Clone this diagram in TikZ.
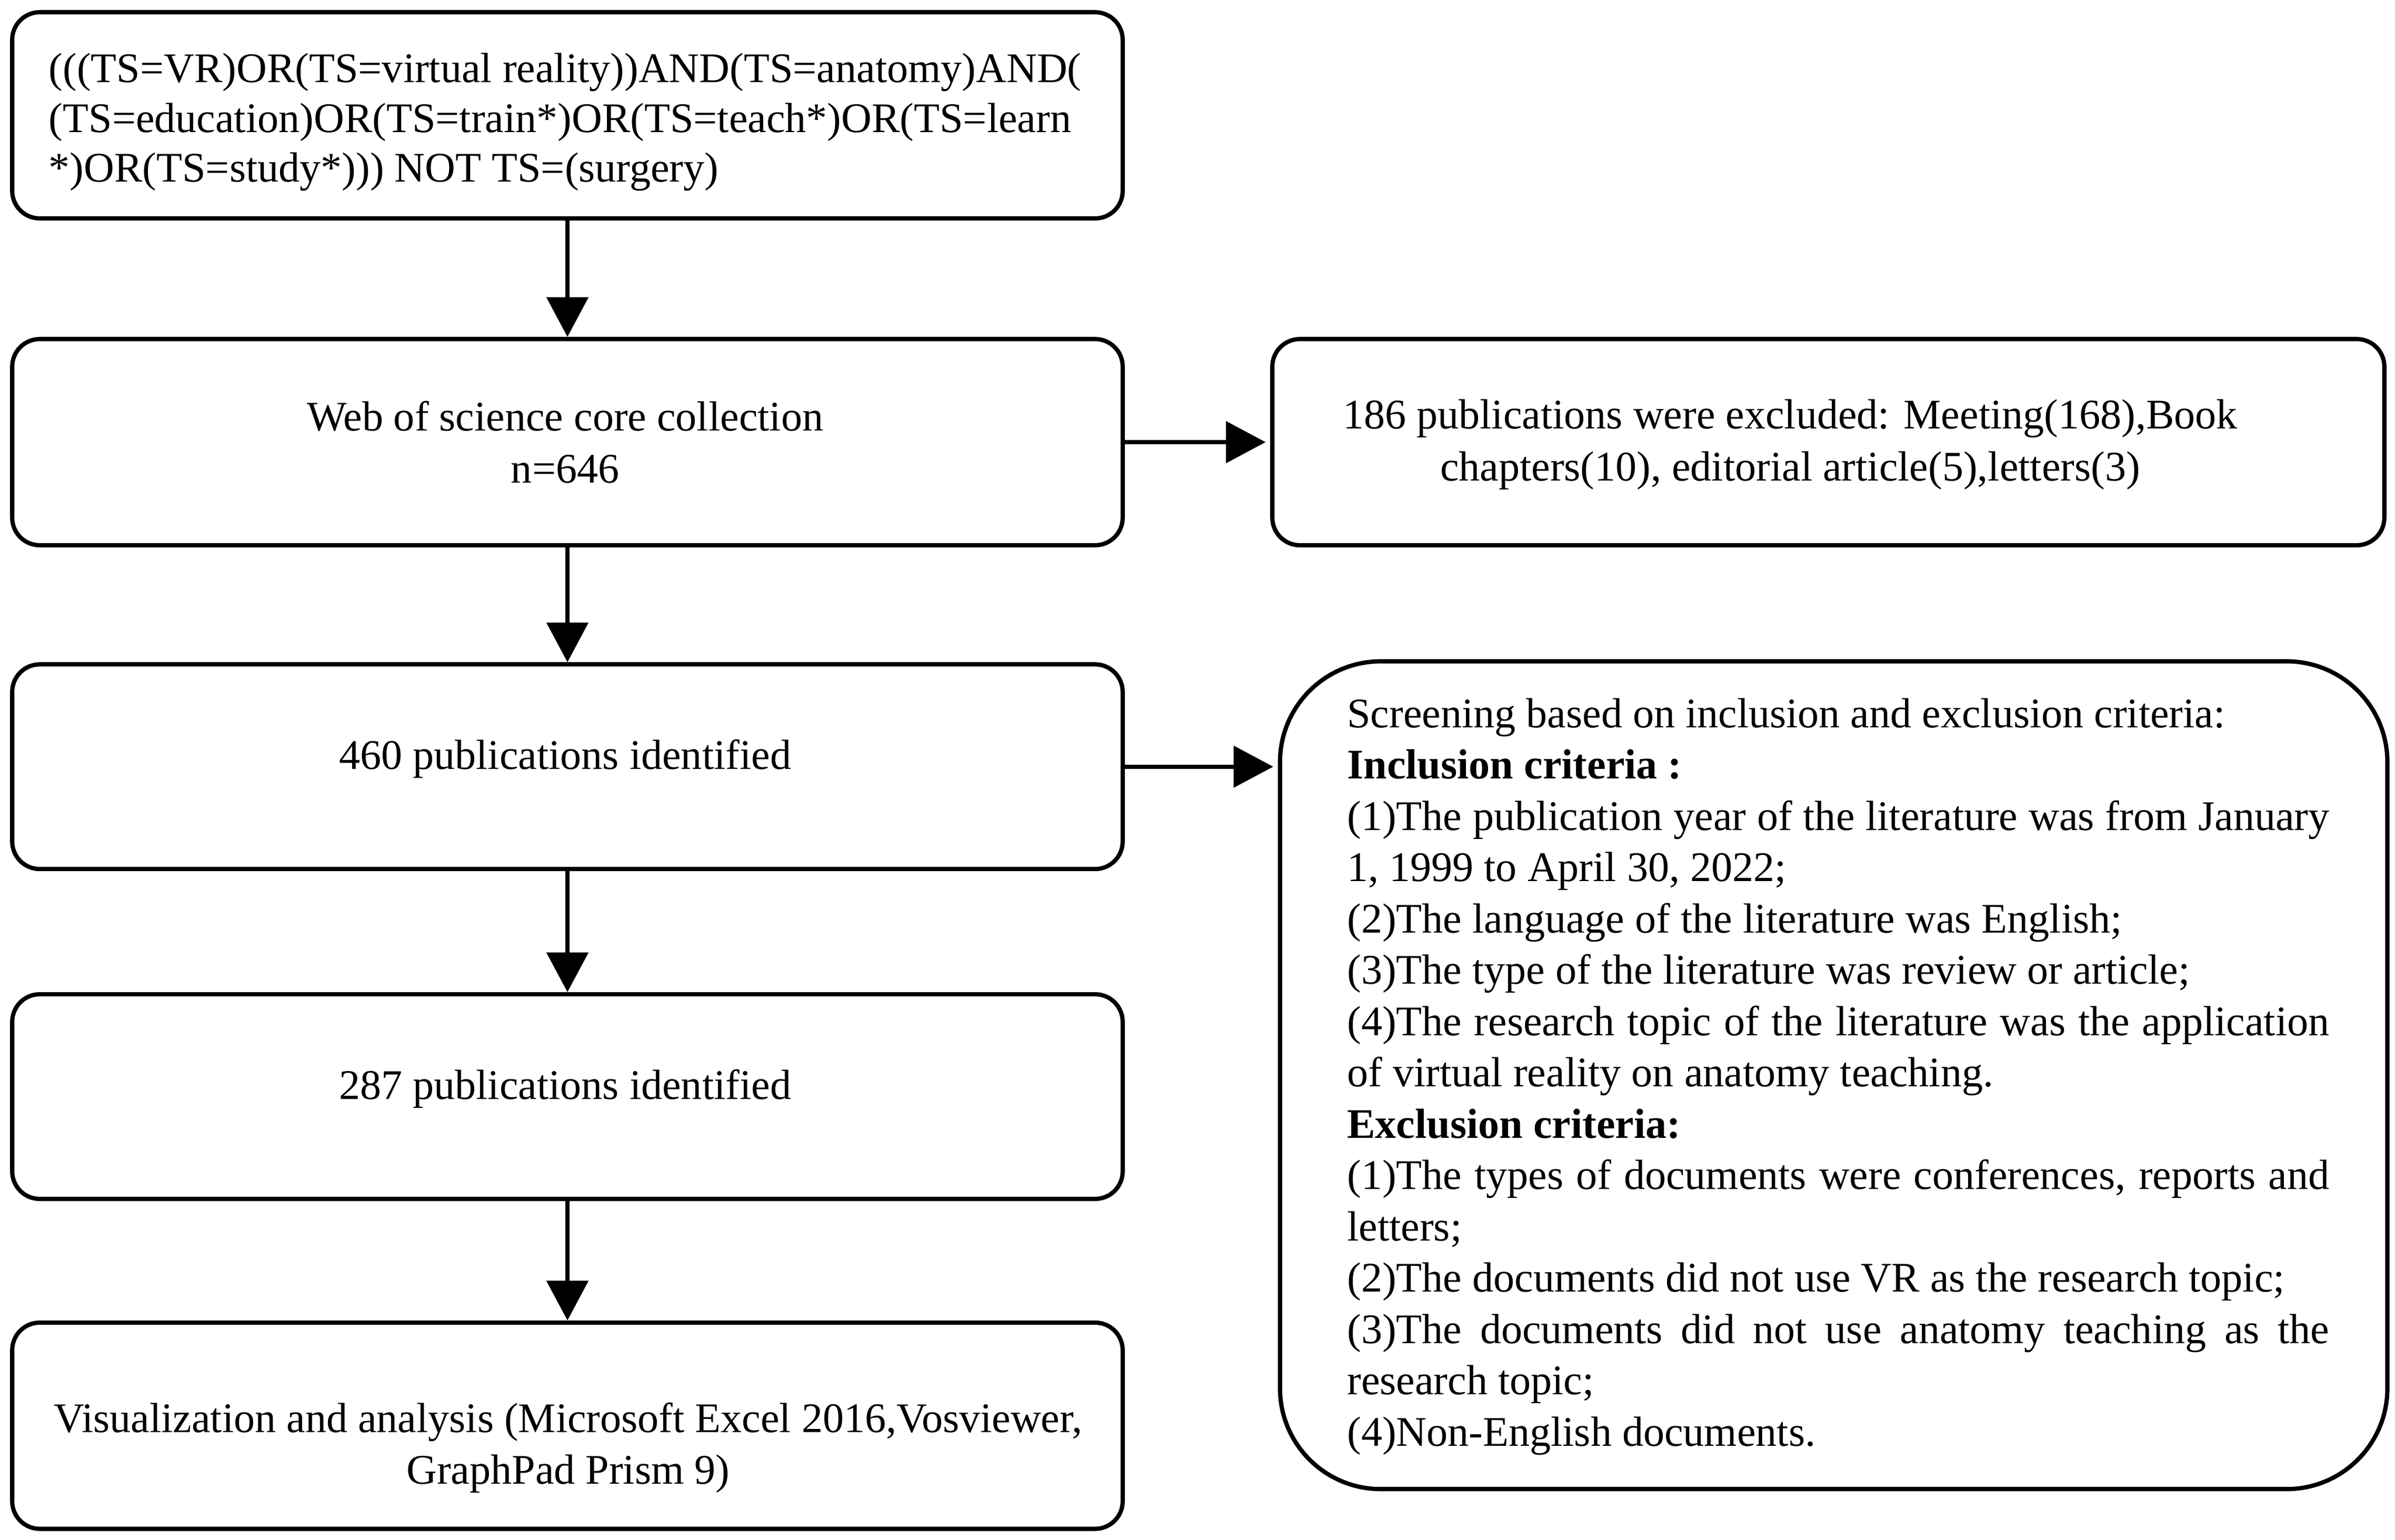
\documentclass[tikz,border=0pt]{standalone}
\usepackage{fontspec}
\setmainfont{Liberation Serif}
\usetikzlibrary{arrows.meta}
\newcommand{\fullline}[1]{\makebox[321.5pt][s]{#1}}
\begin{document}
\begin{tikzpicture}[x=0.5pt,y=-0.5pt,
  box/.style={draw, line width=1.4pt, rounded corners=9pt, minimum height=67.5pt, inner sep=0pt},
  bigbox/.style={draw, line width=1.4pt, rounded corners=33pt, inner sep=0pt},
  txt/.style={inner sep=0pt, font=\fontsize{13.8pt}{16.75pt}\selectfont},
  arr/.style={line width=1.3pt, -{Triangle[width=13.5pt,length=13pt]}}
]
\fill[white] (0,0) rectangle (1568,1008);
\useasboundingbox (0,0) rectangle (1568,1008);

% boxes
\node[box, minimum width=363.5pt] (b1) at (371.5,75.5) {};
\node[box, minimum width=363.5pt] (b2) at (371.5,289.5) {};
\node[box, minimum width=364pt] (b3) at (1197,289.5) {};
\node[box, minimum width=363.5pt, minimum height=67pt] (b4) at (371.5,502) {};
\node[box, minimum width=363.5pt, minimum height=67pt] (b5) at (371.5,718) {};
\node[box, minimum width=363.5pt] (b6) at (371.5,933.5) {};
\node[bigbox, minimum width=362.5pt, minimum height=271pt] (big) at (1200.5,704) {};

% texts
\node[txt, align=left, font=\fontsize{13.8pt}{16.3pt}\selectfont] (t1) at (370,80) {%
(((TS=VR)OR(TS=virtual reality))AND(TS=anatomy)AND(\\
(TS=education)OR(TS=train*)OR(TS=teach*)OR(TS=learn\\
*)OR(TS=study*))) NOT TS=(surgery)};
\node[txt, align=center, font=\fontsize{13.8pt}{17pt}\selectfont] (t2) at (370,289.5) {Web of science core collection\\n=646};
\node[txt, align=center, font=\fontsize{13.8pt}{17pt}\selectfont] (t3) at (1172,291) {186 publications were excluded: Meeting(168),Book\\chapters(10), editorial article(5),letters(3)};
\node[txt] (t4) at (370,497) {460 publications identified};
\node[txt] (t5) at (370,713) {287 publications identified};
\node[txt, align=center, font=\fontsize{13.8pt}{17pt}\selectfont] (t6) at (372,948) {Visualization and analysis (Microsoft Excel 2016,Vosviewer,\\GraphPad Prism 9)};
\node[txt, align=left, font=\fontsize{13.8pt}{16.8pt}\selectfont] (t7) at (1203.5,705) {%
Screening based on inclusion and exclusion criteria:\\
\textbf{Inclusion criteria :}\\
\fullline{(1)The publication year of the literature was from January}\\
1, 1999 to April 30, 2022;\\
(2)The language of the literature was English;\\
(3)The type of the literature was review or article;\\
\fullline{(4)The research topic of the literature was the application}\\
of virtual reality on anatomy teaching.\\
\textbf{Exclusion criteria:}\\
\fullline{(1)The types of documents were conferences, reports and}\\
letters;\\
(2)The documents did not use VR as the research topic;\\
\fullline{(3)The documents did not use anatomy teaching as the}\\
research topic;\\
(4)Non-English documents.};

% arrows
\draw[arr] (b1.south) -- (b2.north);
\draw[arr] (b2.south) -- (b4.north);
\draw[arr] (b4.south) -- (b5.north);
\draw[arr] (b5.south) -- (b6.north);
\draw[arr] (b2.east) -- ([xshift=-1.5pt]b3.west);
\draw[arr] (b4.east) -- ([xshift=-1.5pt]b4.east -| big.west);
\end{tikzpicture}
\end{document}
